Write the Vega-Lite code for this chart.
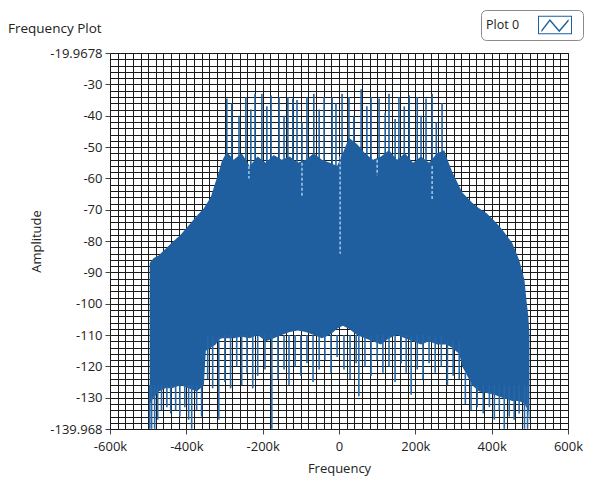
{
  "$schema": "https://vega.github.io/schema/vega-lite/v6.json",
  "width": 458,
  "height": 376,
  "autosize": {"type": "none"},
  "padding": {"left": 110, "top": 53, "right": 25, "bottom": 52},
  "background": "white",
  "config": {
    "font": "Open Sans",
    "view": {"stroke": "#222", "strokeWidth": 1}
  },
  "title": {
    "text": "Frequency Plot",
    "anchor": "start",
    "frame": "group",
    "dx": -102,
    "offset": -26,
    "fontSize": 13.5,
    "fontWeight": "normal",
    "color": "#222"
  },
  "datasets": {
    "env": [
      {"f": -496000, "hi": -87, "lo": -132},
      {"f": -486000, "hi": -85.5, "lo": -130},
      {"f": -472000, "hi": -84.5, "lo": -128},
      {"f": -455000, "hi": -82.5, "lo": -127},
      {"f": -438000, "hi": -80.5, "lo": -127},
      {"f": -415000, "hi": -78, "lo": -126},
      {"f": -394000, "hi": -75, "lo": -127},
      {"f": -373000, "hi": -72, "lo": -128},
      {"f": -354000, "hi": -69.5, "lo": -126},
      {"f": -349000, "hi": -68.5, "lo": -115},
      {"f": -336000, "hi": -66, "lo": -114},
      {"f": -323000, "hi": -61, "lo": -113},
      {"f": -315000, "hi": -58, "lo": -111.5},
      {"f": -307000, "hi": -54.5, "lo": -111},
      {"f": -294000, "hi": -51.5, "lo": -111},
      {"f": -276000, "hi": -54, "lo": -111},
      {"f": -255000, "hi": -52, "lo": -110.5},
      {"f": -234000, "hi": -56, "lo": -111},
      {"f": -213000, "hi": -53, "lo": -110},
      {"f": -192000, "hi": -55, "lo": -112},
      {"f": -171000, "hi": -52.5, "lo": -111},
      {"f": -150000, "hi": -54, "lo": -110},
      {"f": -129000, "hi": -53, "lo": -109},
      {"f": -108000, "hi": -55, "lo": -108.5},
      {"f": -87000, "hi": -54, "lo": -109},
      {"f": -66000, "hi": -52, "lo": -110},
      {"f": -45000, "hi": -54, "lo": -111},
      {"f": -24000, "hi": -55, "lo": -110},
      {"f": -5000, "hi": -56, "lo": -108},
      {"f": 10000, "hi": -52, "lo": -107},
      {"f": 26000, "hi": -47, "lo": -108},
      {"f": 47000, "hi": -49, "lo": -110},
      {"f": 68000, "hi": -52, "lo": -111},
      {"f": 89000, "hi": -54, "lo": -112},
      {"f": 110000, "hi": -53, "lo": -113},
      {"f": 131000, "hi": -51, "lo": -111},
      {"f": 152000, "hi": -54, "lo": -110},
      {"f": 173000, "hi": -52, "lo": -111},
      {"f": 194000, "hi": -55, "lo": -112},
      {"f": 215000, "hi": -53, "lo": -113},
      {"f": 236000, "hi": -55, "lo": -112},
      {"f": 257000, "hi": -52, "lo": -113},
      {"f": 276000, "hi": -51, "lo": -113},
      {"f": 281000, "hi": -53, "lo": -113},
      {"f": 297000, "hi": -58, "lo": -114},
      {"f": 315000, "hi": -62.5, "lo": -116},
      {"f": 323000, "hi": -64.5, "lo": -120},
      {"f": 349000, "hi": -67.8, "lo": -126},
      {"f": 367000, "hi": -69.5, "lo": -128},
      {"f": 386000, "hi": -71, "lo": -128.5},
      {"f": 407000, "hi": -73.5, "lo": -129},
      {"f": 428000, "hi": -76.4, "lo": -130},
      {"f": 454000, "hi": -80.6, "lo": -131},
      {"f": 472000, "hi": -86, "lo": -131},
      {"f": 486000, "hi": -92.4, "lo": -132},
      {"f": 491000, "hi": -98.8, "lo": -133},
      {"f": 496000, "hi": -104, "lo": -134},
      {"f": 499000, "hi": -110, "lo": -138}
    ],
    "up": [
      {"f": -294000, "a": -56, "b": -34.5},
      {"f": -281000, "a": -56, "b": -36},
      {"f": -262000, "a": -56, "b": -40},
      {"f": -244000, "a": -56, "b": -34},
      {"f": -231000, "a": -56, "b": -38},
      {"f": -220000, "a": -56, "b": -33},
      {"f": -202000, "a": -56, "b": -33},
      {"f": -189000, "a": -56, "b": -37},
      {"f": -178000, "a": -56, "b": -33.5},
      {"f": -157000, "a": -56, "b": -34},
      {"f": -144000, "a": -56, "b": -40},
      {"f": -134000, "a": -56, "b": -34},
      {"f": -121000, "a": -56, "b": -34.5},
      {"f": -110000, "a": -56, "b": -35},
      {"f": -97000, "a": -56, "b": -42},
      {"f": -84000, "a": -56, "b": -34},
      {"f": -66000, "a": -56, "b": -33},
      {"f": -52000, "a": -56, "b": -38},
      {"f": -39000, "a": -56, "b": -34},
      {"f": -18000, "a": -56, "b": -34},
      {"f": -8000, "a": -56, "b": -36},
      {"f": 8000, "a": -56, "b": -33},
      {"f": 26000, "a": -56, "b": -34},
      {"f": 39000, "a": -56, "b": -40},
      {"f": 58000, "a": -56, "b": -31.5},
      {"f": 73000, "a": -56, "b": -37},
      {"f": 84000, "a": -56, "b": -34},
      {"f": 105000, "a": -56, "b": -34.5},
      {"f": 121000, "a": -56, "b": -39},
      {"f": 131000, "a": -56, "b": -33},
      {"f": 147000, "a": -56, "b": -41},
      {"f": 157000, "a": -56, "b": -34},
      {"f": 171000, "a": -56, "b": -37},
      {"f": 184000, "a": -56, "b": -33.5},
      {"f": 205000, "a": -56, "b": -34},
      {"f": 215000, "a": -56, "b": -40},
      {"f": 228000, "a": -56, "b": -34.5},
      {"f": 244000, "a": -56, "b": -33},
      {"f": 255000, "a": -56, "b": -42},
      {"f": 270000, "a": -56, "b": -36}
    ],
    "dn": [
      {"f": -496000, "a": -126, "b": -139.9},
      {"f": -491000, "a": -126, "b": -139.9},
      {"f": -483000, "a": -126, "b": -139.9},
      {"f": -475000, "a": -126, "b": -137},
      {"f": -465000, "a": -126, "b": -134},
      {"f": -451000, "a": -126, "b": -133},
      {"f": -441000, "a": -126, "b": -135},
      {"f": -428000, "a": -126, "b": -134},
      {"f": -417000, "a": -126, "b": -136},
      {"f": -404000, "a": -126, "b": -133},
      {"f": -394000, "a": -126, "b": -137},
      {"f": -386000, "a": -126, "b": -139.9},
      {"f": -373000, "a": -126, "b": -134},
      {"f": -360000, "a": -126, "b": -136},
      {"f": -344000, "a": -110, "b": -124},
      {"f": -331000, "a": -110, "b": -127},
      {"f": -315000, "a": -110, "b": -137},
      {"f": -299000, "a": -110, "b": -125},
      {"f": -284000, "a": -110, "b": -127},
      {"f": -268000, "a": -110, "b": -120},
      {"f": -255000, "a": -110, "b": -126},
      {"f": -241000, "a": -110, "b": -122},
      {"f": -226000, "a": -110, "b": -127},
      {"f": -213000, "a": -110, "b": -123},
      {"f": -194000, "a": -110, "b": -121},
      {"f": -176000, "a": -110, "b": -139.9},
      {"f": -160000, "a": -110, "b": -124},
      {"f": -144000, "a": -110, "b": -121},
      {"f": -131000, "a": -110, "b": -126},
      {"f": -115000, "a": -110, "b": -120},
      {"f": -100000, "a": -110, "b": -123},
      {"f": -84000, "a": -110, "b": -119},
      {"f": -68000, "a": -110, "b": -125},
      {"f": -52000, "a": -110, "b": -121},
      {"f": -37000, "a": -110, "b": -118},
      {"f": -21000, "a": -110, "b": -122},
      {"f": -5000, "a": -110, "b": -117},
      {"f": 13000, "a": -110, "b": -121},
      {"f": 29000, "a": -110, "b": -124},
      {"f": 45000, "a": -110, "b": -119},
      {"f": 52000, "a": -110, "b": -129.5},
      {"f": 68000, "a": -110, "b": -120},
      {"f": 84000, "a": -110, "b": -123},
      {"f": 100000, "a": -110, "b": -118},
      {"f": 115000, "a": -110, "b": -122},
      {"f": 131000, "a": -110, "b": -120},
      {"f": 147000, "a": -110, "b": -125},
      {"f": 163000, "a": -110, "b": -119},
      {"f": 176000, "a": -110, "b": -122},
      {"f": 189000, "a": -110, "b": -129},
      {"f": 205000, "a": -110, "b": -121},
      {"f": 220000, "a": -110, "b": -124},
      {"f": 236000, "a": -110, "b": -119},
      {"f": 252000, "a": -110, "b": -122},
      {"f": 268000, "a": -110, "b": -120},
      {"f": 284000, "a": -112, "b": -126},
      {"f": 299000, "a": -112, "b": -123},
      {"f": 315000, "a": -112, "b": -124},
      {"f": 331000, "a": -122, "b": -132},
      {"f": 346000, "a": -125, "b": -134},
      {"f": 362000, "a": -126, "b": -133},
      {"f": 378000, "a": -126, "b": -135},
      {"f": 394000, "a": -126, "b": -133},
      {"f": 407000, "a": -126, "b": -137},
      {"f": 420000, "a": -126, "b": -134},
      {"f": 433000, "a": -126, "b": -139.9},
      {"f": 446000, "a": -126, "b": -136},
      {"f": 459000, "a": -126, "b": -137},
      {"f": 472000, "a": -126, "b": -135},
      {"f": 486000, "a": -126, "b": -139.9},
      {"f": 494000, "a": -126, "b": -139.9}
    ],
    "lt": [
      {"f": -236000, "a": -56, "b": -60},
      {"f": -97000, "a": -55, "b": -66},
      {"f": 3000, "a": -53, "b": -84},
      {"f": 100000, "a": -54, "b": -59},
      {"f": 244000, "a": -56, "b": -67}
    ]
  },
  "layer": [
    {
      "data": {"name": "env"},
      "mark": {"type": "area", "interpolate": "linear"},
      "encoding": {
        "x": {
          "field": "f",
          "type": "quantitative",
          "scale": {"domain": [-600000, 600000], "nice": false, "zero": false},
          "axis": {
            "title": "Frequency",
            "tickCount": 500,
            "values": [-600000,-580000,-560000,-540000,-520000,-500000,-480000,-460000,-440000,-420000,-400000,-380000,-360000,-340000,-320000,-300000,-280000,-260000,-240000,-220000,-200000,-180000,-160000,-140000,-120000,-100000,-80000,-60000,-40000,-20000,0,20000,40000,60000,80000,100000,120000,140000,160000,180000,200000,220000,240000,260000,280000,300000,320000,340000,360000,380000,400000,420000,440000,460000,480000,500000,520000,540000,560000,580000,600000],
            "labelExpr": "datum.value === 0 ? '0' : (datum.value % 200000 === 0 ? (datum.value < 0 ? '-' : '') + (abs(datum.value) / 1000) + 'k' : '')",
            "grid": true,
            "gridColor": "#1a1a1a",
            "gridOpacity": 1,
            "gridWidth": 1,
            "domain": false,
            "tickSize": 5,
            "tickColor": "#444",
            "tickOpacity": {"condition": {"test": "datum.value % 200000 === 0", "value": 1}, "value": 0},
            "labelOverlap": false,
            "labelBound": false,
            "labelFlush": false,
            "labelFontSize": 13,
            "labelColor": "#222",
            "labelPadding": 6,
            "titleFontSize": 13,
            "titleFontWeight": "normal",
            "titleColor": "#222",
            "titlePadding": 9
          }
        },
        "y": {
          "field": "hi",
          "type": "quantitative",
          "scale": {"domain": [-139.968, -19.9678], "nice": false, "zero": false},
          "axis": {
            "title": "Amplitude",
            "tickCount": 500,
            "values": [-139.968,-138,-136,-134,-132,-130,-128,-126,-124,-122,-120,-118,-116,-114,-112,-110,-108,-106,-104,-102,-100,-98,-96,-94,-92,-90,-88,-86,-84,-82,-80,-78,-76,-74,-72,-70,-68,-66,-64,-62,-60,-58,-56,-54,-52,-50,-48,-46,-44,-42,-40,-38,-36,-34,-32,-30,-28,-26,-24,-22,-19.9678],
            "labelExpr": "datum.value > -20 ? '-19.9678' : (datum.value < -139 ? '-139.968' : (datum.value % 10 === 0 ? '-' + abs(datum.value) : ''))",
            "grid": true,
            "gridColor": "#1a1a1a",
            "gridOpacity": 1,
            "gridWidth": 1,
            "domain": false,
            "tickSize": 5,
            "tickColor": "#444",
            "tickOpacity": {"condition": {"test": "datum.value % 10 === 0 || datum.value > -20 || datum.value < -139", "value": 1}, "value": 0},
            "labelOverlap": false,
            "labelBound": false,
            "labelFlush": false,
            "labelFontSize": 13,
            "labelColor": "#222",
            "labelPadding": 3,
            "titleFontSize": 13,
            "titleFontWeight": "normal",
            "titleColor": "#222",
            "titlePadding": 6
          }
        },
        "y2": {"field": "lo"},
        "color": {
          "datum": "Plot 0",
          "type": "nominal",
          "scale": {"range": ["#1f5f9f"]},
          "legend": {
            "title": "Plot 0",
            "titleOrient": "left",
            "titleAnchor": "middle",
            "titleFontWeight": "normal",
            "titleFontSize": 12.5,
            "titleColor": "#222",
            "titlePadding": 18,
            "titleBaseline": "middle",
            "orient": "none",
            "legendX": 371,
            "legendY": -43,
            "labelExpr": "''",
            "labelOffset": 6,
            "clipHeight": 20,
            "symbolType": "M-1,-0.55H1V0.55H-1Z M-0.94,-0.49V0.49H0.94V-0.49Z M-0.8,0.3L-0.3,-0.35L0.25,0.3L0.8,-0.35L0.8,-0.22L0.25,0.43L-0.3,-0.22L-0.8,0.43Z",
            "symbolSize": 1156,
            "symbolStrokeWidth": 0,
            "strokeColor": "#8a8a8a",
            "cornerRadius": 5,
            "fillColor": "white",
            "padding": 5
          }
        }
      }
    },
    {
      "data": {"name": "up"},
      "mark": {"type": "rule", "color": "#1f5f9f", "strokeWidth": 1.6},
      "encoding": {
        "x": {"field": "f", "type": "quantitative"},
        "y": {"field": "a", "type": "quantitative"},
        "y2": {"field": "b"}
      }
    },
    {
      "data": {"name": "dn"},
      "mark": {"type": "rule", "color": "#2767a8", "strokeWidth": 1.6},
      "encoding": {
        "x": {"field": "f", "type": "quantitative"},
        "y": {"field": "a", "type": "quantitative"},
        "y2": {"field": "b"}
      }
    },
    {
      "data": {"name": "lt"},
      "mark": {"type": "rule", "color": "#a8c8e8", "strokeWidth": 1.5, "strokeDash": [3, 2]},
      "encoding": {
        "x": {"field": "f", "type": "quantitative"},
        "y": {"field": "a", "type": "quantitative"},
        "y2": {"field": "b"}
      }
    }
  ]
}
